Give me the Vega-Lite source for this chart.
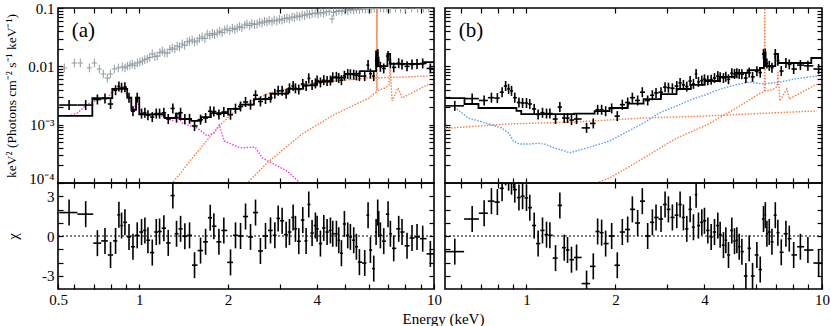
{
"$schema": "https://vega.github.io/schema/vega-lite/v6.json",
"background": "white",
"padding": {"left": 3, "top": 0, "right": 2, "bottom": 0},
"bounds": "flush",
"columns": 2,
"spacing": {"row": 0, "column": 11},
"config": {
  "font": "Times New Roman",
  "view": {"stroke": "black", "strokeWidth": 1.6}
},
"datasets": {
"greyA": [
{"e":0.557,"v":0.0094},{"e":0.602,"v":0.0114},{"e":0.631,"v":0.0114},{"e":0.677,"v":0.0094},{"e":0.704,"v":0.0114},{"e":0.732,"v":0.009},{"e":0.755,"v":0.0074},{"e":0.779,"v":0.0063},{"e":0.798,"v":0.0074},{"e":0.823,"v":0.009},{"e":0.849,"v":0.0094},{"e":0.876,"v":0.0098},{"e":0.895,"v":0.0094},{"e":0.911,"v":0.0101},{"e":0.93,"v":0.0105},{"e":0.947,"v":0.011},{"e":0.966,"v":0.0104},{"e":0.985,"v":0.0114},{"e":1.005,"v":0.0118},{"e":1.024,"v":0.0123},{"e":1.044,"v":0.013},{"e":1.064,"v":0.0134},{"e":1.085,"v":0.0142},{"e":1.107,"v":0.0163},{"e":1.13,"v":0.0148},{"e":1.151,"v":0.015},{"e":1.175,"v":0.0172},{"e":1.197,"v":0.0183},{"e":1.22,"v":0.017},{"e":1.244,"v":0.0169},{"e":1.27,"v":0.0195},{"e":1.294,"v":0.0206},{"e":1.32,"v":0.0198},{"e":1.345,"v":0.0223},{"e":1.37,"v":0.0215},{"e":1.399,"v":0.0242},{"e":1.425,"v":0.023},{"e":1.454,"v":0.0262},{"e":1.48,"v":0.027},{"e":1.512,"v":0.0283},{"e":1.54,"v":0.0262},{"e":1.572,"v":0.0272},{"e":1.6,"v":0.03},{"e":1.635,"v":0.032},{"e":1.67,"v":0.03},{"e":1.7,"v":0.0358},{"e":1.735,"v":0.034},{"e":1.77,"v":0.0365},{"e":1.8,"v":0.035},{"e":1.838,"v":0.0373},{"e":1.875,"v":0.04},{"e":1.91,"v":0.038},{"e":1.95,"v":0.042},{"e":1.987,"v":0.0437},{"e":2.03,"v":0.041},{"e":2.07,"v":0.045},{"e":2.11,"v":0.043},{"e":2.15,"v":0.0454},{"e":2.19,"v":0.048},{"e":2.23,"v":0.046},{"e":2.28,"v":0.051},{"e":2.32,"v":0.0532},{"e":2.37,"v":0.05},{"e":2.41,"v":0.054},{"e":2.46,"v":0.052},{"e":2.51,"v":0.0532},{"e":2.56,"v":0.057},{"e":2.61,"v":0.055},{"e":2.66,"v":0.059},{"e":2.71,"v":0.0576},{"e":2.76,"v":0.061},{"e":2.82,"v":0.058},{"e":2.87,"v":0.062},{"e":2.93,"v":0.0598},{"e":2.99,"v":0.064},{"e":3.05,"v":0.062},{"e":3.11,"v":0.066},{"e":3.17,"v":0.0674},{"e":3.23,"v":0.065},{"e":3.3,"v":0.07},{"e":3.36,"v":0.069},{"e":3.43,"v":0.073},{"e":3.5,"v":0.071},{"e":3.57,"v":0.076},{"e":3.64,"v":0.074},{"e":3.71,"v":0.079},{"e":3.78,"v":0.077},{"e":3.86,"v":0.08},{"e":3.95,"v":0.082},{"e":4.04,"v":0.079},{"e":4.13,"v":0.084},{"e":4.22,"v":0.082},{"e":4.31,"v":0.086},{"e":4.41,"v":0.088},{"e":4.51,"v":0.065},{"e":4.56,"v":0.084},{"e":4.66,"v":0.087},{"e":4.76,"v":0.09},{"e":4.87,"v":0.088},{"e":4.98,"v":0.092},{"e":5.1,"v":0.09},{"e":5.22,"v":0.094},{"e":5.34,"v":0.092},{"e":5.46,"v":0.096},{"e":5.59,"v":0.094},{"e":5.72,"v":0.097},{"e":5.85,"v":0.096},{"e":5.98,"v":0.098},{"e":6.12,"v":0.097},{"e":6.27,"v":0.099},{"e":6.42,"v":0.098},{"e":6.58,"v":0.1},{"e":6.75,"v":0.099},{"e":6.92,"v":0.1},{"e":7.1,"v":0.098},{"e":7.4,"v":0.1},{"e":7.7,"v":0.099},{"e":8.0,"v":0.1},{"e":8.4,"v":0.1},{"e":8.8,"v":0.099},{"e":9.2,"v":0.1},{"e":9.6,"v":0.1}
],
"dA": [
{"e":0.578,"e0":0.535,"e1":0.617,"v":0.00217,"c":1.77},{"e":0.658,"e0":0.617,"e1":0.698,"v":0.00217,"c":1.65},{"e":0.721,"e0":0.698,"e1":0.743,"v":0.0027,"c":-0.54},{"e":0.765,"e0":0.743,"e1":0.782,"v":0.0028,"c":-0.37},{"e":0.799,"e0":0.782,"e1":0.815,"v":0.00226,"c":-1.43},{"e":0.831,"e0":0.815,"e1":0.842,"v":0.0039,"c":-0.37},{"e":0.853,"e0":0.842,"e1":0.862,"v":0.0045,"c":1.6},{"e":0.871,"e0":0.862,"e1":0.882,"v":0.0043,"c":0.79},{"e":0.894,"e0":0.882,"e1":0.908,"v":0.0044,"c":1.03},{"e":0.923,"e0":0.908,"e1":0.937,"v":0.0029,"c":-0.07},{"e":0.952,"e0":0.937,"e1":0.968,"v":0.0017,"c":-0.81},{"e":0.984,"e0":0.968,"e1":1.0,"v":0.0029,"c":0.05},{"e":1.018,"e0":1.0,"e1":1.031,"v":0.00155,"c":0.3},{"e":1.045,"e0":1.031,"e1":1.057,"v":0.0016,"c":0.42},{"e":1.07,"e0":1.057,"e1":1.088,"v":0.00145,"c":-0.32},{"e":1.107,"e0":1.088,"e1":1.124,"v":0.00135,"c":-1.25},{"e":1.142,"e0":1.124,"e1":1.157,"v":0.00155,"c":0.3},{"e":1.172,"e0":1.157,"e1":1.192,"v":0.00155,"c":0.34},{"e":1.212,"e0":1.192,"e1":1.233,"v":0.0016,"c":0.59},{"e":1.254,"e0":1.233,"e1":1.277,"v":0.00125,"c":-0.52},{"e":1.3,"e0":1.277,"e1":1.319,"v":0.0019,"c":3.05},{"e":1.338,"e0":1.319,"e1":1.359,"v":0.00132,"c":0.17},{"e":1.381,"e0":1.359,"e1":1.404,"v":0.0016,"c":0.54},{"e":1.428,"e0":1.404,"e1":1.454,"v":0.00125,"c":-0.02},{"e":1.481,"e0":1.454,"e1":1.51,"v":0.00126,"c":0.05},{"e":1.54,"e0":1.51,"e1":1.577,"v":0.00095,"c":-2.2},{"e":1.614,"e0":1.577,"e1":1.646,"v":0.00122,"c":-1.1},{"e":1.679,"e0":1.646,"e1":1.71,"v":0.0013,"c":-0.44},{"e":1.741,"e0":1.71,"e1":1.766,"v":0.0017,"c":1.38},{"e":1.791,"e0":1.766,"e1":1.827,"v":0.00168,"c":0.74},{"e":1.863,"e0":1.827,"e1":1.9,"v":0.0015,"c":-0.44},{"e":1.936,"e0":1.9,"e1":1.988,"v":0.00165,"c":0.42},{"e":2.04,"e0":1.988,"e1":2.08,"v":0.00148,"c":-1.99},{"e":2.121,"e0":2.08,"e1":2.163,"v":0.00188,"c":0.05},{"e":2.206,"e0":2.163,"e1":2.25,"v":0.00205,"c":0},{"e":2.294,"e0":2.25,"e1":2.34,"v":0.00245,"c":1.47},{"e":2.385,"e0":2.34,"e1":2.432,"v":0.0022,"c":-0.07},{"e":2.48,"e0":2.432,"e1":2.528,"v":0.0032,"c":1.77},{"e":2.577,"e0":2.528,"e1":2.629,"v":0.0025,"c":-1.13},{"e":2.681,"e0":2.629,"e1":2.734,"v":0.00275,"c":0},{"e":2.788,"e0":2.734,"e1":2.836,"v":0.0029,"c":0.42},{"e":2.884,"e0":2.836,"e1":2.922,"v":0.0034,"c":0.05},{"e":2.96,"e0":2.922,"e1":3.006,"v":0.0038,"c":1.33},{"e":3.053,"e0":3.006,"e1":3.1,"v":0.0038,"c":1.15},{"e":3.15,"e0":3.1,"e1":3.19,"v":0.0034,"c":0.1},{"e":3.233,"e0":3.19,"e1":3.28,"v":0.0042,"c":0.3},{"e":3.327,"e0":3.28,"e1":3.357,"v":0.0046,"c":1.4},{"e":3.388,"e0":3.357,"e1":3.432,"v":0.0042,"c":0.54},{"e":3.477,"e0":3.432,"e1":3.532,"v":0.004,"c":-0.39},{"e":3.587,"e0":3.532,"e1":3.634,"v":0.005,"c":1.2},{"e":3.682,"e0":3.634,"e1":3.72,"v":0.0046,"c":-0.37},{"e":3.759,"e0":3.72,"e1":3.808,"v":0.0062,"c":2.38},{"e":3.858,"e0":3.808,"e1":3.909,"v":0.0048,"c":0.22},{"e":3.96,"e0":3.909,"e1":3.986,"v":0.0051,"c":0.79},{"e":4.012,"e0":3.986,"e1":4.065,"v":0.0057,"c":0.54},{"e":4.118,"e0":4.065,"e1":4.172,"v":0.0053,"c":-0.57},{"e":4.227,"e0":4.172,"e1":4.282,"v":0.0058,"c":0.61},{"e":4.338,"e0":4.282,"e1":4.395,"v":0.0056,"c":0.3},{"e":4.452,"e0":4.395,"e1":4.493,"v":0.0057,"c":0.42},{"e":4.534,"e0":4.493,"e1":4.6,"v":0.0065,"c":0.17},{"e":4.666,"e0":4.6,"e1":4.709,"v":0.0066,"c":0.17},{"e":4.752,"e0":4.709,"e1":4.802,"v":0.0063,"c":-0.32},{"e":4.852,"e0":4.802,"e1":4.909,"v":0.0058,"c":-1.3},{"e":4.966,"e0":4.909,"e1":5.03,"v":0.0069,"c":0.91},{"e":5.097,"e0":5.03,"e1":5.15,"v":0.0074,"c":0.05},{"e":5.204,"e0":5.15,"e1":5.272,"v":0.0073,"c":-0.07},{"e":5.341,"e0":5.272,"e1":5.397,"v":0.0072,"c":-0.32},{"e":5.454,"e0":5.397,"e1":5.519,"v":0.007,"c":-0.81},{"e":5.584,"e0":5.519,"e1":5.7,"v":0.0068,"c":-1.97},{"e":5.821,"e0":5.7,"e1":5.898,"v":0.0068,"c":-2.04},{"e":5.975,"e0":5.898,"e1":6.03,"v":0.0105,"c":1.57},{"e":6.085,"e0":6.03,"e1":6.165,"v":0.0075,"c":-1.06},{"e":6.246,"e0":6.165,"e1":6.303,"v":0.0068,"c":-2.46},{"e":6.361,"e0":6.303,"e1":6.4,"v":0.0125,"c":0.3},{"e":6.442,"e0":6.4,"e1":6.467,"v":0.0163,"c":1.77},{"e":6.493,"e0":6.467,"e1":6.535,"v":0.012,"c":0.91},{"e":6.578,"e0":6.535,"e1":6.665,"v":0.0098,"c":0.05},{"e":6.752,"e0":6.665,"e1":6.868,"v":0.0092,"c":-0.39},{"e":6.984,"e0":6.868,"e1":7.048,"v":0.015,"c":1.65},{"e":7.112,"e0":7.048,"e1":7.206,"v":0.0112,"c":0.17},{"e":7.3,"e0":7.206,"e1":7.445,"v":0.0096,"c":-0.93},{"e":7.59,"e0":7.445,"e1":7.69,"v":0.0113,"c":0.54},{"e":7.79,"e0":7.69,"e1":7.945,"v":0.0108,"c":0.3},{"e":8.1,"e0":7.945,"e1":8.26,"v":0.01,"c":-0.74},{"e":8.423,"e0":8.26,"e1":8.59,"v":0.0108,"c":-0.15},{"e":8.758,"e0":8.59,"e1":8.956,"v":0.011,"c":-0.07},{"e":9.155,"e0":8.956,"e1":9.437,"v":0.0112,"c":-0.2},{"e":9.719,"e0":9.437,"e1":10.0,"v":0.0092,"c":-1.35}
],
"dB": [
{"e":0.572,"e0":0.53,"e1":0.615,"v":0.0021,"c":-1.18},{"e":0.655,"e0":0.615,"e1":0.69,"v":0.0028,"c":1.28},{"e":0.719,"e0":0.69,"e1":0.74,"v":0.0026,"c":1.72},{"e":0.761,"e0":0.74,"e1":0.779,"v":0.0029,"c":2.63},{"e":0.797,"e0":0.779,"e1":0.812,"v":0.00285,"c":2.56},{"e":0.827,"e0":0.812,"e1":0.838,"v":0.0036,"c":3.6},{"e":0.85,"e0":0.838,"e1":0.86,"v":0.0046,"c":4.8},{"e":0.87,"e0":0.86,"e1":0.88,"v":0.0041,"c":4.4},{"e":0.89,"e0":0.88,"e1":0.901,"v":0.0038,"c":4.1},{"e":0.913,"e0":0.901,"e1":0.928,"v":0.0029,"c":3.5},{"e":0.943,"e0":0.928,"e1":0.956,"v":0.0024,"c":2.9},{"e":0.97,"e0":0.956,"e1":0.985,"v":0.00235,"c":3.0},{"e":1.0,"e0":0.985,"e1":1.013,"v":0.00235,"c":2.87},{"e":1.026,"e0":1.013,"e1":1.044,"v":0.00226,"c":2.14},{"e":1.062,"e0":1.044,"e1":1.078,"v":0.00186,"c":0.79},{"e":1.095,"e0":1.078,"e1":1.114,"v":0.0015,"c":-0.57},{"e":1.133,"e0":1.114,"e1":1.151,"v":0.0016,"c":0.42},{"e":1.169,"e0":1.151,"e1":1.184,"v":0.00155,"c":0.1},{"e":1.2,"e0":1.184,"e1":1.227,"v":0.00155,"c":0.05},{"e":1.254,"e0":1.227,"e1":1.275,"v":0.00125,"c":-1.67},{"e":1.297,"e0":1.275,"e1":1.319,"v":0.002,"c":2.31},{"e":1.342,"e0":1.319,"e1":1.359,"v":0.0013,"c":-0.88},{"e":1.377,"e0":1.359,"e1":1.398,"v":0.0013,"c":-1.06},{"e":1.42,"e0":1.398,"e1":1.448,"v":0.0012,"c":-1.79},{"e":1.477,"e0":1.448,"e1":1.537,"v":0.00125,"c":-1.62},{"e":1.597,"e0":1.537,"e1":1.64,"v":0.00088,"c":-3.59},{"e":1.683,"e0":1.64,"e1":1.712,"v":0.00105,"c":-2.29},{"e":1.741,"e0":1.712,"e1":1.768,"v":0.0018,"c":0.34},{"e":1.796,"e0":1.768,"e1":1.824,"v":0.0018,"c":0.25},{"e":1.853,"e0":1.824,"e1":1.897,"v":0.0017,"c":-0.57},{"e":1.942,"e0":1.897,"e1":1.985,"v":0.0019,"c":0},{"e":2.029,"e0":1.985,"e1":2.07,"v":0.0014,"c":-2.21},{"e":2.11,"e0":2.07,"e1":2.155,"v":0.0022,"c":0.3},{"e":2.2,"e0":2.155,"e1":2.241,"v":0.0024,"c":0.49},{"e":2.282,"e0":2.241,"e1":2.33,"v":0.0029,"c":2.01},{"e":2.378,"e0":2.33,"e1":2.422,"v":0.0026,"c":0.98},{"e":2.466,"e0":2.422,"e1":2.518,"v":0.0036,"c":2.63},{"e":2.571,"e0":2.518,"e1":2.619,"v":0.0026,"c":0},{"e":2.667,"e0":2.619,"e1":2.705,"v":0.0032,"c":1.03},{"e":2.744,"e0":2.705,"e1":2.798,"v":0.0035,"c":1.4},{"e":2.853,"e0":2.798,"e1":2.898,"v":0.0036,"c":1.28},{"e":2.944,"e0":2.898,"e1":2.983,"v":0.0044,"c":2.38},{"e":3.022,"e0":2.983,"e1":3.07,"v":0.0043,"c":2.01},{"e":3.117,"e0":3.07,"e1":3.171,"v":0.0042,"c":1.4},{"e":3.225,"e0":3.171,"e1":3.268,"v":0.0046,"c":1.57},{"e":3.31,"e0":3.268,"e1":3.353,"v":0.0052,"c":2.38},{"e":3.397,"e0":3.353,"e1":3.442,"v":0.0048,"c":1.4},{"e":3.487,"e0":3.442,"e1":3.533,"v":0.0045,"c":0.54},{"e":3.579,"e0":3.533,"e1":3.626,"v":0.0056,"c":2.01},{"e":3.673,"e0":3.626,"e1":3.711,"v":0.005,"c":0.66},{"e":3.75,"e0":3.711,"e1":3.784,"v":0.0074,"c":3.12},{"e":3.819,"e0":3.784,"e1":3.87,"v":0.0054,"c":0.79},{"e":3.92,"e0":3.87,"e1":3.961,"v":0.0057,"c":1.03},{"e":4.002,"e0":3.961,"e1":4.055,"v":0.006,"c":1.15},{"e":4.108,"e0":4.055,"e1":4.162,"v":0.0058,"c":0.42},{"e":4.216,"e0":4.162,"e1":4.271,"v":0.0059,"c":-0.07},{"e":4.327,"e0":4.271,"e1":4.383,"v":0.0063,"c":0.3},{"e":4.44,"e0":4.383,"e1":4.481,"v":0.0068,"c":0.79},{"e":4.522,"e0":4.481,"e1":4.581,"v":0.0065,"c":0.1},{"e":4.641,"e0":4.581,"e1":4.684,"v":0.0063,"c":-0.69},{"e":4.727,"e0":4.684,"e1":4.776,"v":0.0066,"c":-0.32},{"e":4.826,"e0":4.776,"e1":4.889,"v":0.006,"c":-1.43},{"e":4.953,"e0":4.889,"e1":5.005,"v":0.0076,"c":0.42},{"e":5.058,"e0":5.005,"e1":5.104,"v":0.0074,"c":-0.39},{"e":5.151,"e0":5.104,"e1":5.198,"v":0.0076,"c":-0.32},{"e":5.246,"e0":5.198,"e1":5.301,"v":0.0074,"c":-0.81},{"e":5.356,"e0":5.301,"e1":5.44,"v":0.0073,"c":-1.18},{"e":5.526,"e0":5.44,"e1":5.598,"v":0.0063,"c":-3.02},{"e":5.671,"e0":5.598,"e1":5.746,"v":0.0078,"c":-0.93},{"e":5.821,"e0":5.746,"e1":5.92,"v":0.0066,"c":-3.02},{"e":6.02,"e0":5.92,"e1":6.1,"v":0.0082,"c":-1.43},{"e":6.18,"e0":6.1,"e1":6.26,"v":0.0078,"c":-2.53},{"e":6.34,"e0":6.26,"e1":6.385,"v":0.0163,"c":1.28},{"e":6.43,"e0":6.385,"e1":6.47,"v":0.0165,"c":1.57},{"e":6.51,"e0":6.47,"e1":6.57,"v":0.0112,"c":0.17},{"e":6.63,"e0":6.57,"e1":6.7,"v":0.0102,"c":0.3},{"e":6.77,"e0":6.7,"e1":6.86,"v":0.0095,"c":-0.44},{"e":6.95,"e0":6.86,"e1":7.02,"v":0.0163,"c":1.57},{"e":7.09,"e0":7.02,"e1":7.185,"v":0.0125,"c":0.25},{"e":7.28,"e0":7.185,"e1":7.415,"v":0.0083,"c":-1.23},{"e":7.55,"e0":7.415,"e1":7.65,"v":0.0114,"c":0.17},{"e":7.75,"e0":7.65,"e1":7.885,"v":0.0108,"c":-0.2},{"e":8.02,"e0":7.885,"e1":8.235,"v":0.009,"c":-1.43},{"e":8.45,"e0":8.235,"e1":8.7,"v":0.0105,"c":-0.81},{"e":8.96,"e0":8.7,"e1":9.35,"v":0.0102,"c":-1.06},{"e":9.74,"e0":9.35,"e1":10.0,"v":0.009,"c":-2.04}
],
"mA": [
{"e":0.53,"v":0.00141},{"e":0.693,"v":0.00286},{"e":0.81,"v":0.0041},{"e":0.91,"v":0.0029},{"e":0.94,"v":0.0018},{"e":0.975,"v":0.0029},{"e":1.0,"v":0.0015},{"e":1.22,"v":0.0013},{"e":1.33,"v":0.00155},{"e":1.37,"v":0.00125},{"e":1.5,"v":0.00116},{"e":1.62,"v":0.00135},{"e":1.75,"v":0.00158},{"e":2.0,"v":0.00186},{"e":2.2,"v":0.0022},{"e":2.45,"v":0.00275},{"e":2.8,"v":0.0034},{"e":3.2,"v":0.0041},{"e":3.6,"v":0.0047},{"e":4.0,"v":0.0055},{"e":4.5,"v":0.0064},{"e":5.0,"v":0.0074},{"e":5.6,"v":0.0083},{"e":6.36,"v":0.018},{"e":6.44,"v":0.0101},{"e":6.95,"v":0.0163},{"e":7.1,"v":0.011},{"e":9.2,"v":0.0118},{"e":10.0,"v":0.0118}
],
"mB": [
{"e":0.53,"v":0.00286},{"e":0.617,"v":0.00226},{"e":0.688,"v":0.00193},{"e":0.925,"v":0.00172},{"e":0.96,"v":0.00152},{"e":1.45,"v":0.00155},{"e":1.7,"v":0.0017},{"e":1.91,"v":0.00193},{"e":2.2,"v":0.0023},{"e":2.49,"v":0.00275},{"e":2.85,"v":0.00335},{"e":3.22,"v":0.00409},{"e":3.6,"v":0.0048},{"e":4.01,"v":0.00561},{"e":4.5,"v":0.0066},{"e":5.07,"v":0.0077},{"e":5.6,"v":0.0086},{"e":6.16,"v":0.00936},{"e":6.36,"v":0.017},{"e":6.44,"v":0.0101},{"e":6.95,"v":0.0163},{"e":7.1,"v":0.0114},{"e":9.2,"v":0.0139},{"e":10.0,"v":0.0139}
],
"magA": [
{"e":0.574,"v":0.00141},{"e":0.616,"v":0.00158},{"e":0.667,"v":0.00226},{"e":0.72,"v":0.0026},{"e":0.749,"v":0.00286},{"e":0.779,"v":0.00275},{"e":0.81,"v":0.00378},{"e":0.842,"v":0.00409},{"e":0.89,"v":0.00378},{"e":0.925,"v":0.00286},{"e":0.954,"v":0.00172},{"e":0.985,"v":0.00255},{"e":1.008,"v":0.00172},{"e":1.064,"v":0.00146},{"e":1.197,"v":0.00141},{"e":1.294,"v":0.00116},{"e":1.345,"v":0.00141},{"e":1.399,"v":0.00107},{"e":1.454,"v":0.00099},{"e":1.572,"v":0.00088},{"e":1.7,"v":0.00064},{"e":1.795,"v":0.00072},{"e":1.867,"v":0.00099},{"e":1.942,"v":0.000525},{"e":2.199,"v":0.0004},{"e":2.416,"v":0.00041},{"e":2.473,"v":0.00041},{"e":2.612,"v":0.00027},{"e":2.866,"v":0.00021},{"e":3.176,"v":0.00016},{"e":3.51,"v":0.0001},{"e":3.7,"v":0.00008}
],
"orA1": [
{"e":1.244,"v":0.00007},{"e":1.294,"v":0.0001},{"e":1.399,"v":0.000161},{"e":1.512,"v":0.000268},{"e":1.635,"v":0.00043},{"e":1.867,"v":0.00095},{"e":2.116,"v":0.00172},{"e":2.416,"v":0.00255},{"e":2.759,"v":0.00349},{"e":3.568,"v":0.00479},{"e":4.617,"v":0.00561},{"e":6.02,"v":0.0063},{"e":7.79,"v":0.00656},{"e":9.7,"v":0.00683}
],
"orA2": [
{"e":2.234,"v":0.00007},{"e":2.36,"v":0.000108},{"e":2.759,"v":0.000238},{"e":3.568,"v":0.00069},{"e":4.617,"v":0.00152},{"e":6.02,"v":0.00286},{"e":6.31,"v":0.00349},{"e":6.38,"v":0.0036},{"e":6.4,"v":0.15},{"e":6.42,"v":0.0039},{"e":6.51,"v":0.0039},{"e":6.82,"v":0.00426},{"e":7.04,"v":0.0048},{"e":7.1,"v":0.009},{"e":7.21,"v":0.00255},{"e":7.55,"v":0.00426},{"e":7.79,"v":0.00286},{"e":9.62,"v":0.00498}
],
"orB1": [
{"e":0.53,"v":0.00087},{"e":0.557,"v":0.00088},{"e":0.869,"v":0.00103},{"e":1.454,"v":0.00111},{"e":2.493,"v":0.0013},{"e":4.075,"v":0.00141},{"e":6.61,"v":0.00158},{"e":9.62,"v":0.00172}
],
"orB2": [
{"e":1.661,"v":0.000073},{"e":1.727,"v":0.0001},{"e":1.911,"v":0.000122},{"e":2.493,"v":0.000268},{"e":3.225,"v":0.00059},{"e":4.075,"v":0.00099},{"e":5.072,"v":0.00186},{"e":6.115,"v":0.00336},{"e":6.38,"v":0.0037},{"e":6.4,"v":0.15},{"e":6.42,"v":0.0038},{"e":6.51,"v":0.00378},{"e":6.877,"v":0.00409},{"e":7.05,"v":0.0045},{"e":7.094,"v":0.0083},{"e":7.2,"v":0.00255},{"e":7.6,"v":0.00409},{"e":7.75,"v":0.00275},{"e":9.62,"v":0.00498}
],
"blueB": [
{"e":0.57,"v":0.002},{"e":0.636,"v":0.0013},{"e":0.743,"v":0.00103},{"e":0.823,"v":0.00088},{"e":0.869,"v":0.00072},{"e":0.904,"v":0.000525},{"e":0.947,"v":0.000465},{"e":1.016,"v":0.000465},{"e":1.098,"v":0.00048},{"e":1.151,"v":0.000465},{"e":1.244,"v":0.000398},{"e":1.345,"v":0.000355},{"e":1.399,"v":0.000328},{"e":1.477,"v":0.000355},{"e":1.687,"v":0.00043},{"e":1.911,"v":0.000525},{"e":2.182,"v":0.00075},{"e":2.493,"v":0.00107},{"e":2.824,"v":0.0016},{"e":3.225,"v":0.0021},{"e":3.682,"v":0.0028},{"e":4.075,"v":0.0033},{"e":4.475,"v":0.004},{"e":5.072,"v":0.0048},{"e":5.7,"v":0.0054},{"e":6.26,"v":0.005},{"e":7.15,"v":0.0053},{"e":8.1,"v":0.0061},{"e":9.62,"v":0.0068}
]
},
"concat": [
 {"width": 376, "height": 175,
  "resolve": {"axis": {"x": "independent", "y": "independent"}},
  "layer": [
   {"encoding": {
     "x": {"field": "e", "type": "quantitative", "scale": {"type": "log", "domain": [0.53, 10], "nice": false}, "axis": {"title": null, "labels": false, "domain": false, "grid": false, "tickColor": "black", "tickWidth": 1.2, "tickSize": -5, "values": [0.6,0.7,0.8,0.9,1,2,3,4,5,6,7,8,9]}},
     "y": {"field": "v", "type": "quantitative", "scale": {"type": "log", "domain": [0.0001, 0.1], "nice": false}, "axis": {"title": "keV² (Photons cm⁻² s⁻¹ keV⁻¹)", "titleX": -40, "titleFont": "Times New Roman", "titleFontSize": 13.5, "titleFontWeight": "normal", "titleColor": "black", "labelFont": "Times New Roman", "labelFontSize": 15, "labelColor": "black", "labelPadding": 9, "labelOverlap": false, "labelFlush": false, "labelBound": false, "labelBaseline": {"condition": {"test": "datum.value == 0.0001", "value": "alphabetic"}, "value": "middle"}, "domain": false, "grid": false, "tickColor": "black", "tickWidth": 1.2, "tickSize": -5, "values": [0.0001,0.0002,0.0003,0.0004,0.0005,0.0006,0.0007,0.0008,0.0009,0.001,0.002,0.003,0.004,0.005,0.006,0.007,0.008,0.009,0.01,0.02,0.03,0.04,0.05,0.06,0.07,0.08,0.09,0.1], "labelExpr": "datum.value == 0.1 ? '0.1' : datum.value == 0.01 ? '0.01' : datum.value == 0.001 ? '10⁻³' : datum.value == 0.0001 ? '10⁻⁴' : ''"}}
    },
    "layer": [
     {"data": {"name": "greyA"}, "mark": {"type": "point", "shape": "M-1,0L1,0M0,-1.6L0,1.6", "size": 30, "filled": false, "stroke": "#8f9ca1", "strokeWidth": 1, "opacity": 1, "clip": true}},
     {"data": {"name": "magA"}, "mark": {"type": "line", "color": "#f03cdc", "strokeWidth": 1.4, "strokeDash": [1.5, 1.5], "clip": true}},
     {"data": {"name": "orA1"}, "mark": {"type": "line", "color": "#fb7d45", "strokeWidth": 1.4, "strokeDash": [1.5, 1.5], "clip": true}},
     {"data": {"name": "orA2"}, "mark": {"type": "line", "color": "#fb7d45", "strokeWidth": 1.4, "strokeDash": [1.5, 1.5], "clip": true}},
     {"data": {"name": "mA"}, "mark": {"type": "line", "color": "black", "strokeWidth": 1.8, "interpolate": "step-after", "clip": true}},
     {"data": {"name": "dA"}, "mark": {"type": "rule", "color": "black", "strokeWidth": 1.6, "clip": true}, "encoding": {"x": {"field": "e0", "type": "quantitative"}, "x2": {"field": "e1"}}},
     {"data": {"name": "dA"}, "mark": {"type": "tick", "orient": "vertical", "color": "black", "size": 10, "thickness": 1.6, "opacity": 1, "clip": true}}
    ]
   },
   {"data": {"values": [{}]}, "mark": {"type": "text", "text": "(a)", "fontSize": 21, "align": "left", "baseline": "middle", "color": "black", "font": "Times New Roman"},
    "encoding": {
     "x": {"datum": 0.59, "type": "quantitative", "scale": {"type": "log", "domain": [0.53, 10], "nice": false}, "axis": {"orient": "top", "title": null, "labels": false, "domain": false, "grid": false, "tickColor": "black", "tickWidth": 1.2, "tickSize": -5, "values": [0.6,0.7,0.8,0.9,1,2,3,4,5,6,7,8,9]}},
     "y": {"datum": 0.041, "type": "quantitative", "scale": {"type": "log", "domain": [0.0001, 0.1], "nice": false}, "axis": {"orient": "right", "title": null, "labels": false, "domain": false, "grid": false, "tickColor": "black", "tickWidth": 1.2, "tickSize": -5, "values": [0.0002,0.0003,0.0004,0.0005,0.0006,0.0007,0.0008,0.0009,0.001,0.002,0.003,0.004,0.005,0.006,0.007,0.008,0.009,0.01,0.02,0.03,0.04,0.05,0.06,0.07,0.08,0.09]}}
    }
   }
  ]
 },
 {"width": 377, "height": 175,
  "resolve": {"axis": {"x": "independent", "y": "independent"}},
  "layer": [
   {"encoding": {
     "x": {"field": "e", "type": "quantitative", "scale": {"type": "log", "domain": [0.53, 10], "nice": false}, "axis": {"title": null, "labels": false, "domain": false, "grid": false, "tickColor": "black", "tickWidth": 1.2, "tickSize": -5, "values": [0.6,0.7,0.8,0.9,1,2,3,4,5,6,7,8,9]}},
     "y": {"field": "v", "type": "quantitative", "scale": {"type": "log", "domain": [0.0001, 0.1], "nice": false}, "axis": {"title": null, "labels": false, "domain": false, "grid": false, "tickColor": "black", "tickWidth": 1.2, "tickSize": -5, "values": [0.0002,0.0003,0.0004,0.0005,0.0006,0.0007,0.0008,0.0009,0.001,0.002,0.003,0.004,0.005,0.006,0.007,0.008,0.009,0.01,0.02,0.03,0.04,0.05,0.06,0.07,0.08,0.09]}}
    },
    "layer": [
     {"data": {"name": "blueB"}, "mark": {"type": "line", "color": "#5a9cf6", "strokeWidth": 1.4, "strokeDash": [1.5, 1.5], "clip": true}},
     {"data": {"name": "orB1"}, "mark": {"type": "line", "color": "#fb7d45", "strokeWidth": 1.4, "strokeDash": [1.5, 1.5], "clip": true}},
     {"data": {"name": "orB2"}, "mark": {"type": "line", "color": "#fb7d45", "strokeWidth": 1.4, "strokeDash": [1.5, 1.5], "clip": true}},
     {"data": {"name": "mB"}, "mark": {"type": "line", "color": "black", "strokeWidth": 1.8, "interpolate": "step-after", "clip": true}},
     {"data": {"name": "dB"}, "mark": {"type": "rule", "color": "black", "strokeWidth": 1.6, "clip": true}, "encoding": {"x": {"field": "e0", "type": "quantitative"}, "x2": {"field": "e1"}}},
     {"data": {"name": "dB"}, "mark": {"type": "tick", "orient": "vertical", "color": "black", "size": 10, "thickness": 1.6, "opacity": 1, "clip": true}}
    ]
   },
   {"data": {"values": [{}]}, "mark": {"type": "text", "text": "(b)", "fontSize": 21, "align": "left", "baseline": "middle", "color": "black", "font": "Times New Roman"},
    "encoding": {
     "x": {"datum": 0.59, "type": "quantitative", "scale": {"type": "log", "domain": [0.53, 10], "nice": false}, "axis": {"orient": "top", "title": null, "labels": false, "domain": false, "grid": false, "tickColor": "black", "tickWidth": 1.2, "tickSize": -5, "values": [0.6,0.7,0.8,0.9,1,2,3,4,5,6,7,8,9]}},
     "y": {"datum": 0.041, "type": "quantitative", "scale": {"type": "log", "domain": [0.0001, 0.1], "nice": false}, "axis": {"orient": "right", "title": null, "labels": false, "domain": false, "grid": false, "tickColor": "black", "tickWidth": 1.2, "tickSize": -5, "values": [0.0002,0.0003,0.0004,0.0005,0.0006,0.0007,0.0008,0.0009,0.001,0.002,0.003,0.004,0.005,0.006,0.007,0.008,0.009,0.01,0.02,0.03,0.04,0.05,0.06,0.07,0.08,0.09]}}
    }
   }
  ]
 },
 {"width": 376, "height": 106,
  "resolve": {"axis": {"x": "independent", "y": "independent"}},
  "layer": [
   {"encoding": {
     "x": {"field": "e", "type": "quantitative", "scale": {"type": "log", "domain": [0.53, 10], "nice": false}, "axis": {"title": "Energy (keV)", "titleX": 385, "titleY": 22, "titleBaseline": "top", "titleFont": "Times New Roman", "titleFontSize": 15, "titleFontWeight": "normal", "titleColor": "black", "labelFont": "Times New Roman", "labelFontSize": 15, "labelColor": "black", "labelPadding": 8, "labelOverlap": false, "labelFlush": false, "labelBound": false, "domain": false, "grid": false, "tickColor": "black", "tickWidth": 1.2, "tickSize": -5, "values": [0.53,0.6,0.7,0.8,0.9,1,2,3,4,5,6,7,8,9,10], "labelExpr": "datum.value == 1 ? '1' : datum.value == 2 ? '2' : datum.value == 4 ? '4' : datum.value == 10 ? '10' : datum.value < 0.55 ? '0.5' : ''"}},
     "y": {"field": "c", "type": "quantitative", "scale": {"domain": [-4, 4], "nice": false}, "axis": {"title": "χ", "titleX": -38, "titleFont": "Times New Roman", "titleFontSize": 15, "titleFontWeight": "normal", "titleColor": "black", "labelFont": "Times New Roman", "labelFontSize": 15, "labelColor": "black", "labelPadding": 9, "labelOverlap": false, "labelFlush": false, "labelBound": false, "domain": false, "grid": false, "tickColor": "black", "tickWidth": 1.2, "tickSize": -5, "values": [-3,-2,-1,0,1,2,3], "labelExpr": "datum.value == 3 ? '3' : datum.value == 0 ? '0' : datum.value == -3 ? '-3' : ''"}}
    },
    "layer": [
     {"data": {"name": "dA"}, "mark": {"type": "rule", "color": "black", "strokeWidth": 1.6, "clip": true}, "encoding": {"x": {"field": "e0", "type": "quantitative"}, "x2": {"field": "e1"}}},
     {"data": {"name": "dA"}, "mark": {"type": "tick", "orient": "vertical", "color": "black", "size": 26, "thickness": 1.6, "opacity": 1, "clip": true}}
    ]
   },
   {"data": {"values": [{}]}, "mark": {"type": "rule", "color": "black", "strokeWidth": 1.2, "strokeDash": [2, 2]},
    "encoding": {
     "x": {"datum": 0.53, "type": "quantitative", "scale": {"type": "log", "domain": [0.53, 10], "nice": false}, "axis": {"orient": "top", "title": null, "labels": false, "domain": false, "grid": false, "tickColor": "black", "tickWidth": 1.2, "tickSize": -5, "values": [0.6,0.7,0.8,0.9,1,2,3,4,5,6,7,8,9]}},
     "x2": {"datum": 10},
     "y": {"datum": 0, "type": "quantitative", "scale": {"domain": [-4, 4], "nice": false}, "axis": {"orient": "right", "title": null, "labels": false, "domain": false, "grid": false, "tickColor": "black", "tickWidth": 1.2, "tickSize": -5, "values": [-3,-2,-1,0,1,2,3]}}
    }
   }
  ]
 },
 {"width": 377, "height": 106,
  "resolve": {"axis": {"x": "independent", "y": "independent"}},
  "layer": [
   {"encoding": {
     "x": {"field": "e", "type": "quantitative", "scale": {"type": "log", "domain": [0.53, 10], "nice": false}, "axis": {"title": null, "labelFont": "Times New Roman", "labelFontSize": 15, "labelColor": "black", "labelPadding": 8, "labelOverlap": false, "labelFlush": false, "labelBound": false, "domain": false, "grid": false, "tickColor": "black", "tickWidth": 1.2, "tickSize": -5, "values": [0.6,0.7,0.8,0.9,1,2,3,4,5,6,7,8,9,10], "labelExpr": "datum.value == 1 ? '1' : datum.value == 2 ? '2' : datum.value == 4 ? '4' : datum.value == 10 ? '10' : ''"}},
     "y": {"field": "c", "type": "quantitative", "scale": {"domain": [-4, 4], "nice": false}, "axis": {"title": null, "labels": false, "domain": false, "grid": false, "tickColor": "black", "tickWidth": 1.2, "tickSize": -5, "values": [-3,-2,-1,0,1,2,3]}}
    },
    "layer": [
     {"data": {"name": "dB"}, "mark": {"type": "rule", "color": "black", "strokeWidth": 1.6, "clip": true}, "encoding": {"x": {"field": "e0", "type": "quantitative"}, "x2": {"field": "e1"}}},
     {"data": {"name": "dB"}, "mark": {"type": "tick", "orient": "vertical", "color": "black", "size": 26, "thickness": 1.6, "opacity": 1, "clip": true}}
    ]
   },
   {"data": {"values": [{}]}, "mark": {"type": "rule", "color": "black", "strokeWidth": 1.2, "strokeDash": [2, 2]},
    "encoding": {
     "x": {"datum": 0.53, "type": "quantitative", "scale": {"type": "log", "domain": [0.53, 10], "nice": false}, "axis": {"orient": "top", "title": null, "labels": false, "domain": false, "grid": false, "tickColor": "black", "tickWidth": 1.2, "tickSize": -5, "values": [0.6,0.7,0.8,0.9,1,2,3,4,5,6,7,8,9]}},
     "x2": {"datum": 10},
     "y": {"datum": 0, "type": "quantitative", "scale": {"domain": [-4, 4], "nice": false}, "axis": {"orient": "right", "title": null, "labels": false, "domain": false, "grid": false, "tickColor": "black", "tickWidth": 1.2, "tickSize": -5, "values": [-3,-2,-1,0,1,2,3]}}
    }
   }
  ]
 }
]
}
